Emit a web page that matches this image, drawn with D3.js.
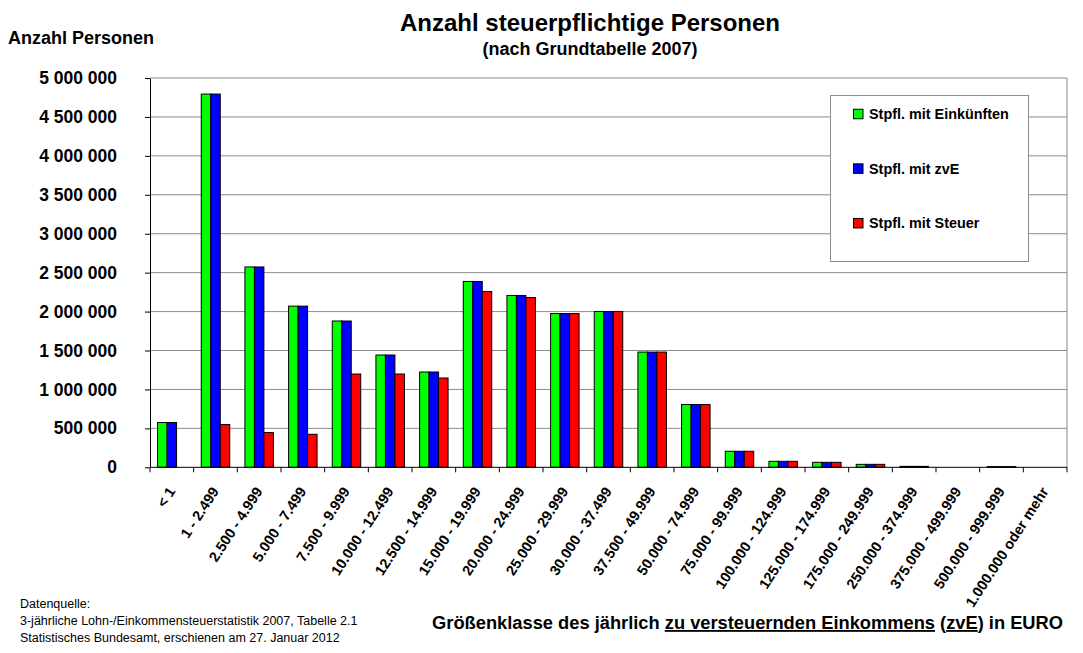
<!DOCTYPE html>
<html>
<head>
<meta charset="utf-8">
<script src="https://cdn.jsdelivr.net/npm/d3@7"></script>
<style>
  body { margin: 0; background: #fff; }
  svg text { font-family: "Liberation Sans", Arial, sans-serif; fill: #000; }
</style>
</head>
<body>
<svg id="chart" width="1083" height="653"></svg>
<script>
// Einkommensklassen (zvE in EURO)
var categories = ["< 1", "1 - 2.499", "2.500 - 4.999", "5.000 - 7.499", "7.500 - 9.999",
  "10.000 - 12.499", "12.500 - 14.999", "15.000 - 19.999", "20.000 - 24.999",
  "25.000 - 29.999", "30.000 - 37.499", "37.500 - 49.999", "50.000 - 74.999",
  "75.000 - 99.999", "100.000 - 124.999", "125.000 - 174.999", "175.000 - 249.999",
  "250.000 - 374.999", "375.000 - 499.999", "500.000 - 999.999", "1.000.000 oder mehr"];

// values
var mitEinkuenften = [575000, 4794000, 2573000, 2070000, 1879000, 1442000, 1224000, 2387000, 2207000,
  1975000, 2001000, 1480000, 806000, 206000, 77000, 64000, 38000, 12000, 0, 9000, 0];
var mitZvE = [575000, 4794000, 2573000, 2070000, 1879000, 1442000, 1224000, 2387000, 2207000,
  1975000, 2001000, 1480000, 806000, 206000, 77000, 64000, 38000, 12000, 0, 9000, 0];
var mitSteuer = [0, 549000, 446000, 424000, 1198000, 1198000, 1147000, 2258000, 2181000,
  1975000, 2001000, 1480000, 806000, 206000, 77000, 64000, 38000, 12000, 0, 9000, 0];

var seriesNames = ["Stpfl. mit Einkünften", "Stpfl. mit zvE", "Stpfl. mit Steuer"];
var seriesColors = ["#00ff00", "#0000ff", "#ff0000"];
var yTicks = [0, 500000, 1000000, 1500000, 2000000, 2500000, 3000000, 3500000, 4000000, 4500000, 5000000];

var plotLeft = 150, plotRight = 1067, plotTop = 78, plotBottom = 467.3;
var font = '"Liberation Sans", Arial, sans-serif';

var svg = d3.select("#chart");

var x0 = d3.scaleBand().domain(categories).range([plotLeft, plotRight]).paddingInner(0).paddingOuter(0);
var x1 = d3.scaleBand().domain(d3.range(3)).range([0, x0.bandwidth()]).paddingInner(0).paddingOuter(0.8);
var y = d3.scaleLinear().domain([0, 5000000]).range([plotBottom, plotTop]);

var fmt = function(d) { return d3.format(",")(d).replace(/,/g, " "); };

// gridlines
svg.append("g").selectAll("line")
    .data(yTicks.filter(function(d) { return d > 0; }))
  .enter().append("line")
    .attr("x1", plotLeft).attr("x2", plotRight)
    .attr("y1", function(d) { return y(d); })
    .attr("y2", function(d) { return y(d); })
    .attr("stroke", "#8c8c8c").attr("stroke-width", 1);

// right border of plot area
svg.append("line")
    .attr("x1", plotRight).attr("x2", plotRight).attr("y1", y(5000000)).attr("y2", y(0))
    .attr("stroke", "#8c8c8c");

// bars
var data = categories.map(function(c, i) {
  return { cat: c, vals: [mitEinkuenften[i], mitZvE[i], mitSteuer[i]] };
});

var group = svg.append("g").selectAll("g")
    .data(data)
  .enter().append("g")
    .attr("transform", function(d) { return "translate(" + x0(d.cat) + ",0)"; });

group.selectAll("rect")
    .data(function(d) { return d.vals.map(function(v, k) { return { k: k, v: v }; }).filter(function(e) { return e.v > 0; }); })
  .enter().append("rect")
    .attr("x", function(e) { return x1(e.k); })
    .attr("y", function(e) { return y(e.v); })
    .attr("width", x1.bandwidth())
    .attr("height", function(e) { return y(0) - y(e.v); })
    .attr("fill", function(e) { return seriesColors[e.k]; })
    .attr("stroke", "#000").attr("stroke-width", 1);

// y axis
var yAxis = svg.append("g")
    .attr("transform", "translate(" + plotLeft + ",0)")
    .call(d3.axisLeft(y).tickValues(yTicks).tickFormat(fmt).tickSize(5).tickSizeOuter(0).tickPadding(28));
yAxis.select(".domain").attr("stroke", "#000");
yAxis.selectAll("text")
    .style("font-family", font).style("font-size", "17.5px").style("font-weight", "bold");

// x axis (ticks on category boundaries)
svg.append("line")
    .attr("x1", plotLeft).attr("x2", plotRight).attr("y1", y(0)).attr("y2", y(0))
    .attr("stroke", "#000");
svg.append("g").selectAll("line")
    .data(categories.map(function(c) { return x0(c); }).concat([plotRight]))
  .enter().append("line")
    .attr("x1", function(d) { return d; }).attr("x2", function(d) { return d; })
    .attr("y1", y(0)).attr("y2", y(0) + 5)
    .attr("stroke", "#000");

svg.append("g").selectAll("text")
    .data(categories)
  .enter().append("text")
    .attr("transform", function(d) {
      return "translate(" + (x0(d) + x0.bandwidth() / 2 + 4) + "," + (y(0) + 24) + ") rotate(-57)";
    })
    .attr("text-anchor", "end")
    .style("font-size", "14.5px").style("font-weight", "bold")
    .text(function(d) { return d; });

// titles
svg.append("text")
    .attr("x", 590).attr("y", 31)
    .attr("text-anchor", "middle")
    .style("font-size", "24px").style("font-weight", "bold")
    .text("Anzahl steuerpflichtige Personen");
svg.append("text")
    .attr("x", 590).attr("y", 55)
    .attr("text-anchor", "middle")
    .style("font-size", "18px").style("font-weight", "bold")
    .text("(nach Grundtabelle 2007)");
svg.append("text")
    .attr("x", 8).attr("y", 44)
    .style("font-size", "18px").style("font-weight", "bold")
    .text("Anzahl Personen");

var xt = svg.append("text")
    .attr("x", 1063).attr("y", 629)
    .attr("text-anchor", "end")
    .style("font-size", "18.3px").style("font-weight", "bold");
xt.append("tspan").text("Größenklasse des jährlich ");
xt.append("tspan").style("text-decoration", "underline").text("zu versteuernden Einkommens");
xt.append("tspan").text(" (");
xt.append("tspan").style("text-decoration", "underline").text("zvE");
xt.append("tspan").text(") in EURO");

// source
var src = ["Datenquelle:", "3-jährliche Lohn-/Einkommensteuerstatistik 2007, Tabelle 2.1",
  "Statistisches Bundesamt, erschienen am 27. Januar 2012"];
svg.append("g").selectAll("text")
    .data(src)
  .enter().append("text")
    .attr("x", 20).attr("y", function(d, i) { return 608 + i * 17; })
    .style("font-size", "12.5px")
    .text(function(d) { return d; });

// legend
var lg = svg.append("g");
lg.append("rect")
    .attr("x", 830.5).attr("y", 95.5).attr("width", 198).attr("height", 166)
    .attr("fill", "#fff").attr("stroke", "#8c8c8c");
var item = lg.selectAll("g")
    .data(seriesNames)
  .enter().append("g")
    .attr("transform", function(d, i) { return "translate(0," + (114 + i * 54.6) + ")"; });
item.append("rect")
    .attr("x", 853.5).attr("y", -4.75).attr("width", 9.5).attr("height", 9.5)
    .attr("fill", function(d, i) { return seriesColors[i]; })
    .attr("stroke", "#000");
item.append("text")
    .attr("x", 869).attr("dy", "0.36em")
    .style("font-size", "14.4px").style("font-weight", "bold")
    .text(function(d) { return d; });
</script>
</body>
</html>
